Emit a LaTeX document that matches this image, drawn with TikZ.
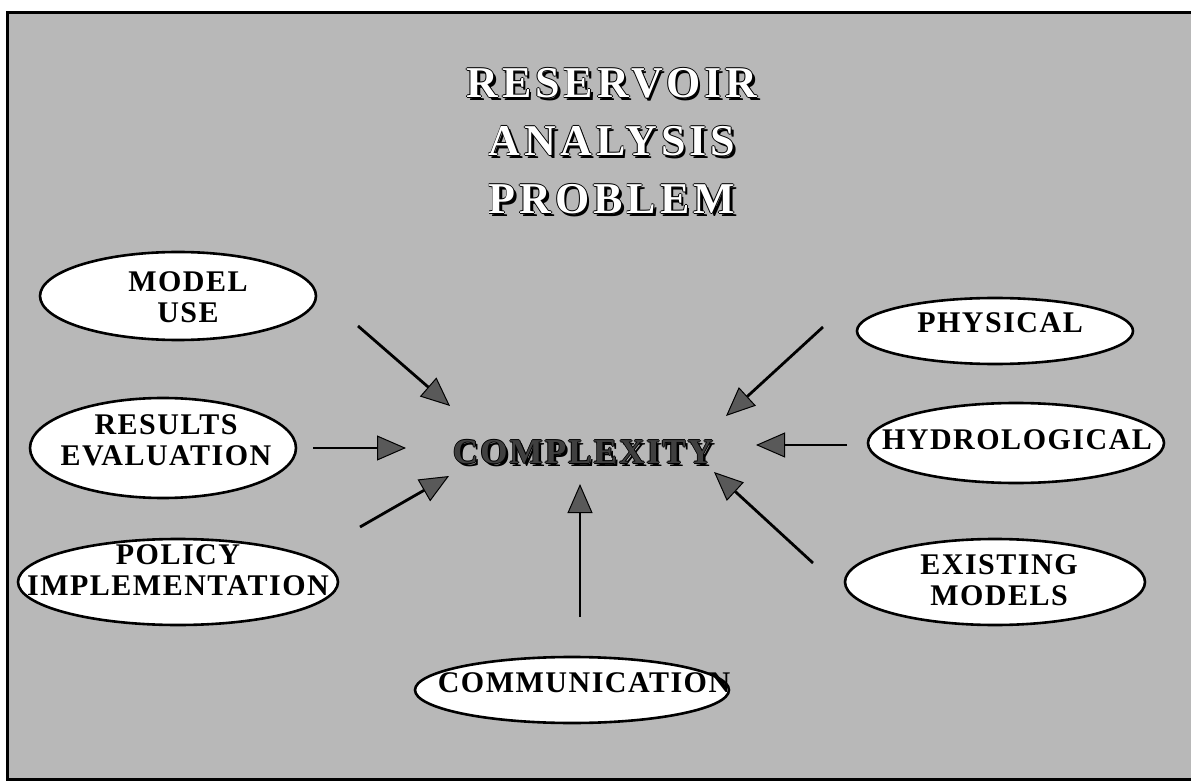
\documentclass[tikz,border=0pt]{standalone}
\usepackage{fontspec}
\setmainfont{Liberation Serif}
\newfontfamily\labelfont[LetterSpace=5]{Liberation Serif}
\newfontfamily\headfont[LetterSpace=9]{Liberation Serif}
\newfontfamily\corefont[LetterSpace=6]{Liberation Serif}
\usetikzlibrary{arrows.meta,shapes.geometric}

% carved lettering: dark shadow, dark rim, coloured face
\newcommand\carved[2]{%
  \leavevmode
  \rlap{\color{black}\kern2.5pt\raisebox{-2.5pt}{#2}}%
  \rlap{\color{black}\kern0.9pt #2}%
  \rlap{\color{black}\kern-0.9pt #2}%
  \rlap{\color{black}\raisebox{0.9pt}{#2}}%
  \rlap{\color{black}\raisebox{-0.9pt}{#2}}%
  {\color{#1}#2}}

\tikzset{
  bubble/.style={draw=black, line width=2.6pt, fill=white, ellipse, inner sep=0pt},
  tag/.style={font=\labelfont\bfseries\fontsize{30}{31}\selectfont, align=center, inner sep=0pt},
  feed/.style={line width=2.8pt,
    -{Triangle[length=29pt,width=25pt,fill=black!65,line width=1pt]}},
}

\begin{document}
\begin{tikzpicture}[x=1pt,y=-1pt]
\useasboundingbox (0,0) rectangle (1191,783);
\clip (0,0) rectangle (1191,783);

% panel
\fill[white] (0,0) rectangle (1191,783);
\fill[black!28] (7,13) rectangle (1195,779);
\draw[line width=3pt] (1195,13) -- (7,13) -- (7,779) -- (1195,779);

% heading
\node (title) at (612,142) [align=center, inner sep=0pt,
  font=\headfont\bfseries\fontsize{44}{58}\selectfont]
  {\carved{white}{RESERVOIR}\\\carved{white}{ANALYSIS}\\\carved{white}{PROBLEM}};

% centre term
\node (core) at (583,453) [inner sep=0pt, font=\corefont\bfseries\fontsize{35}{40}\selectfont]
  {\carved{black!75}{COMPLEXITY}};

% ellipses
\node[bubble, minimum width=276pt, minimum height=88pt]  (model)    at (178,296) {};
\node[bubble, minimum width=266pt, minimum height=100pt] (results)  at (163,448) {};
\node[bubble, minimum width=320pt, minimum height=86pt]  (policy)   at (178,582) {};
\node[bubble, minimum width=276pt, minimum height=66pt]  (physical) at (995,331) {};
\node[bubble, minimum width=296pt, minimum height=80pt]  (hydro)    at (1016,443) {};
\node[bubble, minimum width=300pt, minimum height=86pt]  (existing) at (995,582) {};
\node[bubble, minimum width=314pt, minimum height=66pt]  (comm)     at (572,690) {};

% ellipse captions
\node[tag] (model-t)    at (188,297)  {MODEL\\USE};
\node[tag] (results-t)  at (166,440)  {RESULTS\\EVALUATION};
\node[tag] (policy-t)   at (178,570)  {POLICY\\IMPLEMENTATION};
\node[tag] (physical-t) at (1000,323) {PHYSICAL};
\node[tag] (hydro-t)    at (1017,440) {HYDROLOGICAL};
\node[tag] (existing-t) at (999,580)  {EXISTING\\MODELS};
\node[tag] (comm-t)     at (584,683)  {COMMUNICATION};

% arrow ends
\coordinate (mu-s) at (358,326); \coordinate (mu-e) at (450,406);
\coordinate (re-s) at (313,448); \coordinate (re-e) at (406,448);
\coordinate (pi-s) at (360,527); \coordinate (pi-e) at (449,476);
\coordinate (ph-s) at (823,327); \coordinate (ph-e) at (726,416);
\coordinate (hy-s) at (847,445); \coordinate (hy-e) at (756,445);
\coordinate (ex-s) at (813,563); \coordinate (ex-e) at (714,472);
\coordinate (co-s) at (580,617); \coordinate (co-e) at (580,484);

\draw[feed] (mu-s) -- (mu-e);
\draw[feed] (re-s) -- (re-e);
\draw[feed] (pi-s) -- (pi-e);
\draw[feed] (ph-s) -- (ph-e);
\draw[feed] (hy-s) -- (hy-e);
\draw[feed] (ex-s) -- (ex-e);
\draw[feed] (co-s) -- (co-e);
\end{tikzpicture}
\end{document}
